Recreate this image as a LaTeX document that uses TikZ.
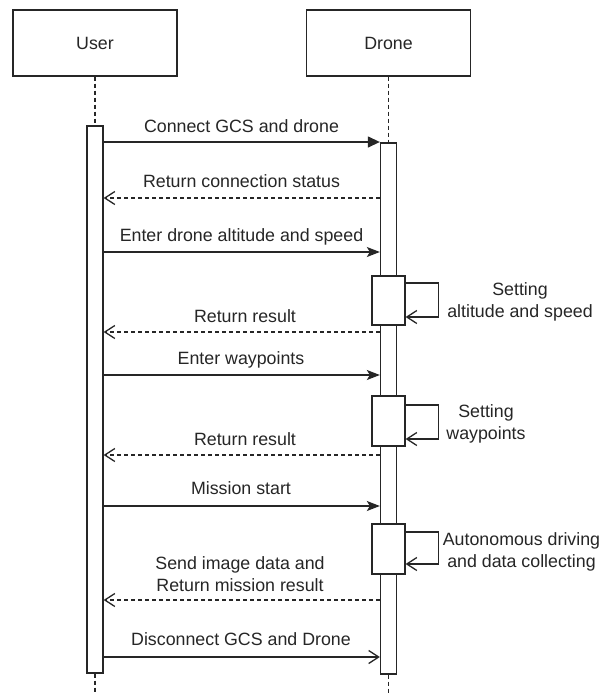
\documentclass[tikz,border=0pt]{standalone}
\usepackage{fontspec}
\setmainfont{Liberation Sans}
\usetikzlibrary{arrows.meta}
\definecolor{ink}{HTML}{262626}
\begin{document}
\begin{tikzpicture}[x=1pt,y=-1pt,line width=1.3pt,
  txt/.style={font=\fontsize{17.8pt}{22pt}\selectfont, text=ink},
  actor/.style={txt, draw=ink, fill=white, minimum width=164pt, minimum height=66pt, inner sep=0pt},
  bar/.style={draw=ink, fill=white, inner sep=0pt, minimum width=16pt},
  act/.style={draw=ink, fill=white, inner sep=0pt, minimum width=33pt, minimum height=50pt},
  life/.style={draw=ink, dash pattern=on 4pt off 3pt},
  call/.style={draw=ink, -{Stealth[length=13pt,width=10pt,inset=3pt]}},
  firstcall/.style={draw=ink, -{Triangle[length=12pt,width=11pt]}},
  opencall/.style={draw=ink, -{Straight Barb[length=10pt,width=13pt]}},
  ret/.style={draw=ink, dash pattern=on 4pt off 3pt, -{Straight Barb[length=10pt,width=13pt]}},
  self/.style={draw=ink, -{Straight Barb[length=10pt,width=13pt]}},
  lbl/.style={txt, anchor=south, text depth=0pt, inner sep=0pt, align=center}]
\useasboundingbox[fill=white] (0,0) rectangle (610,694);

% actors
\node[actor] (user) at (95,43) {User};
\node[actor] (drone) at (388.5,43) {Drone};

% lifeline ends
\coordinate (uend) at (95,694);
\coordinate (dend) at (388.5,694);

% activation bars
\node[bar, minimum height=547pt] (ubar) at (95,399.5) {};
\node[bar, minimum height=531pt] (dbar) at (388.5,408.5) {};

% lifelines
\draw[life] (user.south) -- (ubar.north);
\draw[life] (ubar.south) -- (uend);
\draw[life] (drone.south) -- (dbar.north);
\draw[life] (dbar.south) -- (dend);

% nested activations
\node[act, minimum height=49pt] (a1) at (388.5,300.5) {};
\node[act] (a2) at (388.5,421) {};
\node[act] (a3) at (388.5,549) {};

% messages
\draw[firstcall] (ubar.east |- 0,142) -- (dbar.west |- 0,142);
\node[lbl] (l1) at (241.5,133) {Connect GCS and drone};

\draw[ret] (dbar.west |- 0,198) -- (ubar.east |- 0,198);
\node[lbl] (l2) at (241.5,188) {Return connection status};

\draw[call] (ubar.east |- 0,252) -- (dbar.west |- 0,252);
\node[lbl] (l3) at (241.5,242) {Enter drone altitude and speed};

\draw[self] (a1.east |- 0,283) -- ++(33,0) -- ++(0,34) -- (a1.east |- 0,317);
\node[lbl] (s1) at (520,318) {Setting\\altitude and speed};

\draw[ret] (dbar.west |- 0,332) -- (ubar.east |- 0,332);
\node[lbl] (l4) at (245,323) {Return result};

\draw[call] (ubar.east |- 0,375) -- (dbar.west |- 0,375);
\node[lbl] (l5) at (241,365) {Enter waypoints};

\draw[self] (a2.east |- 0,405) -- ++(33,0) -- ++(0,34) -- (a2.east |- 0,439);
\node[lbl] (s2) at (486,440) {Setting\\waypoints};

\draw[ret] (dbar.west |- 0,455) -- (ubar.east |- 0,455);
\node[lbl] (l6) at (245,446) {Return result};

\draw[call] (ubar.east |- 0,506) -- (dbar.west |- 0,506);
\node[lbl] (l7) at (241,495) {Mission start};

\draw[self] (a3.east |- 0,532) -- ++(33,0) -- ++(0,32) -- (a3.east |- 0,564);
\node[lbl] (s3) at (521.5,568) {Autonomous driving\\and data collecting};

\draw[ret] (dbar.west |- 0,600) -- (ubar.east |- 0,600);
\node[lbl] (l8) at (240,592) {Send image data and\\Return mission result};

\draw[opencall] (ubar.east |- 0,657) -- (dbar.west |- 0,657);
\node[lbl] (l9) at (241,646) {Disconnect GCS and Drone};
\end{tikzpicture}
\end{document}
